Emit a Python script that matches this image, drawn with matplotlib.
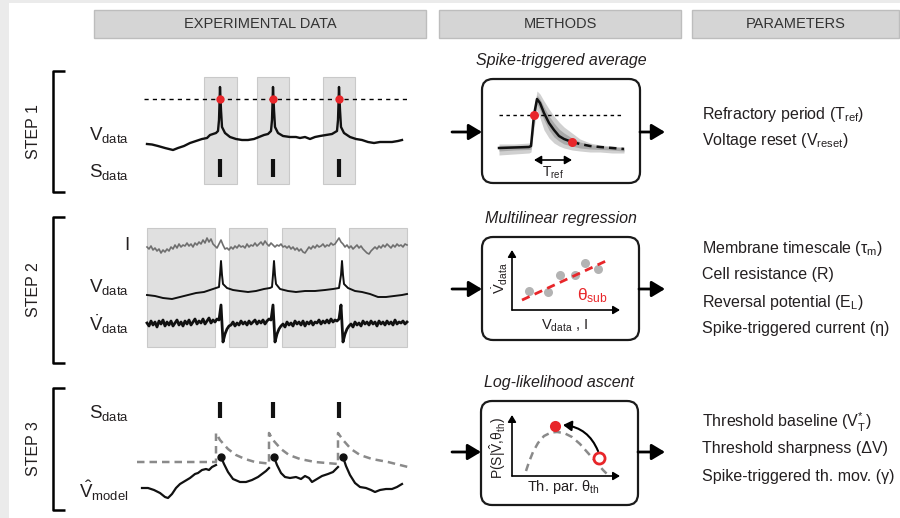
import numpy as np
import matplotlib.pyplot as plt
from matplotlib.patches import Rectangle, FancyBboxPatch

plt.rcParams['font.family'] = 'Liberation Sans'
plt.rcParams['mathtext.fontset'] = 'custom'
plt.rcParams['mathtext.rm'] = 'Liberation Sans'
plt.rcParams['mathtext.it'] = 'Liberation Sans:italic'
plt.rcParams['mathtext.bf'] = 'Liberation Sans:bold'
plt.rcParams['mathtext.sf'] = 'Liberation Sans'

###############################################################################
#### Data (time in ms, voltages in a.u.)
###############################################################################
spike_times = [160, 266, 398]
threshold = 91

# step 1: recorded voltage
v1_t = [14, 24, 36, 50, 66, 76, 88, 100, 112, 124, 134, 140, 146, 152, 156, 158, 160, 162, 164, 170,
        180, 192, 204, 216, 228, 238, 248, 256, 262, 264, 266, 268, 270, 276, 286, 300, 312, 320, 330, 340,
        350, 360, 372, 384, 394, 396, 398, 400, 402, 408, 420, 432, 444, 456, 468, 480, 492, 504, 516, 524]
v1_v = [46, 45.5, 44, 42, 40, 42, 44, 47, 49, 51, 52, 55, 56, 57, 59, 70, 103, 80, 63, 57,
        53, 51, 50, 50, 51, 53, 55, 56, 59, 70, 103, 80, 63, 57, 54, 53, 53, 52, 53, 51,
        53, 54, 55, 56, 59, 70, 103, 80, 63, 57, 53, 51, 50, 48, 47, 48, 48, 48, 49, 50]
windows1 = [(128, 194), (234, 298), (366, 430)]

# step 2: input current, voltage and its derivative
windows2 = [(14, 150), (178, 254), (284, 390), (418, 534)]
i2_v = [103, 101, 104, 100, 102, 99, 101, 97, 100, 98,
        101, 99, 103, 101, 105, 102, 106, 103, 105, 104,
        107, 104, 106, 103, 107, 105, 108, 106, 110, 107,
        112, 108, 111, 106, 104, 102, 106, 110, 105, 101,
        102, 100, 103, 101, 104, 102, 105, 103, 104, 102,
        106, 103, 105, 104, 107, 104, 106, 108, 105, 109,
        106, 104, 107, 105, 103, 105, 104, 106, 103, 104,
        102, 104, 101, 103, 100, 102, 99, 101, 98, 97,
        100, 103, 101, 104, 102, 105, 103, 104, 106, 103,
        105, 104, 107, 105, 106, 109, 112, 108, 106, 103,
        105, 102, 104, 101, 103, 105, 102, 104, 101, 99,
        97, 96, 99, 101, 103, 101, 104, 102, 105, 103,
        106, 104, 102, 105, 103, 106, 104, 105, 103, 106, 105]
dv2_v = [27, 24, 29, 25, 28, 23, 29, 26, 30, 24,
         28, 25, 29, 24, 27, 30, 25, 28, 24, 29,
         26, 30, 25, 28, 31, 26, 29, 27, 31, 26,
         29, 32, 27, 30, 28, 31, 30, 45, 8, 16,
         21, 24, 25, 28, 24, 27, 25, 29, 26, 28,
         25, 29, 26, 28, 30, 26, 29, 27, 30, 26,
         29, 31, 30, 45, 8, 16, 21, 24, 26, 23,
         28, 25, 27, 24, 29, 26, 28, 25, 29, 24,
         28, 26, 29, 25, 28, 27, 30, 26, 29, 27,
         30, 27, 31, 28, 30, 29, 31, 45, 8, 16,
         21, 24, 26, 23, 28, 25, 27, 24, 29, 26,
         28, 25, 29, 26, 28, 24, 29, 26, 28, 25,
         29, 26, 28, 25, 30, 26, 28, 27, 29, 26, 28]
v2_t = [14, 30, 46, 64, 80, 96, 112, 128, 140, 152, 158, 160, 162, 164, 166, 174, 186, 200, 216, 232,
        248, 260, 264, 266, 268, 270, 272, 280, 296, 312, 330, 350, 370, 386, 398, 402, 404, 406, 408, 416,
        430, 444, 460, 476, 492, 508, 524, 534]
v2_v = [55, 54, 52, 51, 53, 55, 57, 58, 60, 62, 63, 75, 89, 75, 66, 62, 60, 59, 58, 59,
        61, 62, 63, 75, 89, 75, 66, 61, 59, 58, 59, 59, 60, 61, 62, 75, 89, 75, 66, 62,
        59, 58, 56, 53, 53, 54, 55, 56]

# step 3: model voltage (reset after each spike) and moving threshold
vm_t = [4, 16, 28, 40, 50, 56, 64, 72, 80, 90, 100, 110, 116, 124, 132, 138, 144, 152, np.nan,
        162, 168, 176, 186, 200, 212, 224, 236, 244, 252, 258, np.nan,
        268, 274, 282, 290, 300, 312, 322, 330, 338, 344, 354, 364, 376, 386, 396, np.nan,
        406, 412, 420, 430, 440, 452, 462, 470, 480, 492, 504, 514, 524]
vm_v = [22, 22, 20, 17, 13, 12, 16, 22, 26, 29, 32, 36, 37, 40, 41, 40, 43, 45, np.nan,
        53, 46, 38, 31, 28, 28, 30, 33, 36, 39, 42, np.nan,
        53, 45, 37, 33, 32, 33, 31, 34, 32, 28, 31, 34, 36, 38, 43, np.nan,
        53, 44, 35, 27, 23, 22, 20, 18, 20, 21, 21, 23, 26]
th_t = [-6, 152, 152, 160, 176, 192, 210, 230, 256, 258, 258, 266, 282, 298, 320, 350,
        396, 396, 406, 422, 440, 464, 496, 536]
th_v = [48, 48, 77, 70, 61, 55, 51, 48, 46.5, 46, 77, 70, 61, 55, 51, 48,
        46, 77, 70, 61, 55, 51, 48, 43]

# spike-triggered average (t relative to threshold crossing)
sta_t = [-35, -20, -5, -3, 0, 3, 6, 10, 15, 20, 25, 30, 38, 46, 56, 66, 78, 90]
sta_mean = [10, 10.5, 11, 12, 43, 59, 55, 45, 35, 28, 22, 19, 16, 14, 12, 11, 10, 9]
sta_hi = [14, 14, 15, 16, 50, 67, 64, 57, 49, 42, 36, 31, 25, 19, 15, 13, 12, 11]
sta_lo = [3, 4, 5, 6, 30, 48, 40, 28, 20, 15, 12, 10, 8, 7, 6, 6, 5, 5]
sta_hi2 = [12, 12.5, 13, 14, 46, 63, 59, 51, 42, 35, 29, 25, 20, 16, 13.5, 12, 11, 10]
sta_lo2 = [7, 8, 8.5, 9, 36, 54, 48, 38, 28, 21, 17, 14, 12, 10, 9, 8.5, 8, 7]
t_ref = 38
sta_thresh = 43

# regression samples and fitted line
reg_x = [17, 36, 48, 63, 73, 86]
reg_y = [19, 18, 35, 35, 47, 41]
fit_slope, fit_icpt = 0.465, 5.3

# likelihood curve
lik_x = [14, 17, 21, 26, 32, 39, 45, 52, 60, 68, 76, 84, 91, 95]
lik_y = [5, 14, 24, 33, 40, 43.5, 44, 43, 39, 32, 23, 14, 6, 2]
lik_start = (87, 18)
lik_best = (43, 50)

headers = ['EXPERIMENTAL DATA', 'METHODS', 'PARAMETERS']
methods = ['Spike-triggered average', 'Multilinear regression', 'Log-likelihood ascent']
params = [
    ['Refractory period (T$_{\\mathrm{ref}}$)', 'Voltage reset (V$_{\\mathrm{reset}}$)'],
    ['Membrane timescale (τ$_{\\mathrm{m}}$)', 'Cell resistance (R)',
     'Reversal potential (E$_{\\mathrm{L}}$)', 'Spike-triggered current (η)'],
    ['Threshold baseline ($\\mathrm{V}_{\\mathrm{T}}^{*}$)', 'Threshold sharpness (ΔV)',
     'Spike-triggered th. mov. (γ)'],
]

###############################################################################
#### Figure
###############################################################################
W, H = 900, 518
TXT = '#231f20'
RED = '#e8262a'
fig = plt.figure(figsize=(W / 100, H / 100), dpi=100, facecolor='#ebebeb')
ax = fig.add_axes([0, 0, 1, 1])
ax.set_xlim(0, W)
ax.set_ylim(H, 0)
ax.axis('off')
ax.add_patch(Rectangle((9, 3), W, H, fc='white', ec='none'))


def panel(x0, y0, x1, y1, xlim, ylim):
    a = fig.add_axes([x0 / W, 1 - y1 / H, (x1 - x0) / W, (y1 - y0) / H])
    a.set_xlim(*xlim)
    a.set_ylim(*ylim)
    a.axis('off')
    return a


def arrow(a, p0, p1, lw=2, ms=16, style='-|>,head_length=0.5,head_width=0.3'):
    a.annotate('', xy=p1, xytext=p0,
               arrowprops=dict(arrowstyle=style, lw=lw, color='k', mutation_scale=ms,
                               shrinkA=0, shrinkB=0))


# column headers
for (x0, w), name in zip([(94, 332), (439, 242), (692, 207)], headers):
    ax.add_patch(Rectangle((x0, 10), w, 28, fc='#d5d5d5', ec='#bdbdbd', lw=1))
    ax.text(x0 + w / 2, 24.5, name, ha='center', va='center', fontsize=10.5, color='#333333')

# step brackets
for (y0, y1), name in zip([(71, 192), (217, 363), (388, 510)], ['STEP 1', 'STEP 2', 'STEP 3']):
    ax.plot([65, 53, 53, 65], [y0, y0, y1, y1], color='k', lw=1.8, solid_capstyle='butt')
    ax.text(33, (y0 + y1) / 2, name, rotation=90, ha='center', va='center', fontsize=11.5, color=TXT)

# trace labels
lab = dict(ha='right', va='center', fontsize=13.5, color=TXT)
ax.text(129, 135, 'V$_{\\mathrm{data}}$', **lab)
ax.text(129, 172, 'S$_{\\mathrm{data}}$', **lab)
ax.text(129, 246, 'I', **lab)
ax.text(129, 287, 'V$_{\\mathrm{data}}$', **lab)
ax.text(129, 324, '$\\dot{\\mathrm{V}}_{\\mathrm{data}}$', **lab)
ax.text(129, 413, 'S$_{\\mathrm{data}}$', **lab)
ax.text(129, 491, '$\\hat{\\mathrm{V}}_{\\mathrm{model}}$', **lab)

# method boxes, titles and arrows
boxes = [(482, 79, 158, 104, 132), (482, 237, 157, 103, 289), (481, 401, 157, 104, 452)]
for (x0, y0, w, h, ya), title, ty in zip(boxes, methods, [61, 218, 382]):
    ax.add_patch(FancyBboxPatch((x0, y0), w, h, boxstyle='round,pad=0,rounding_size=11',
                                fc='white', ec='#1a1a1a', lw=1.6))
    ax.text(x0 + w / 2, ty, title, ha='center', va='center', fontsize=11.5, style='italic', color=TXT)
    arrow(ax, (452, ya), (x0, ya))
    arrow(ax, (x0 + w, ya), (665, ya))

# parameters
for lines, ys in zip(params, [[115, 140], [249, 275, 302, 328], [422, 449, 477]]):
    for s, y in zip(lines, ys):
        ax.text(702, y, s, ha='left', va='center', fontsize=11.5, color=TXT)

###############################################################################
#### Step 1
###############################################################################
p1 = panel(130, 75, 412, 190, (-20, 544), (0, 115))
for t0, t1 in windows1:
    p1.add_patch(Rectangle((t0, 6), t1 - t0, 107, fc='#e0e0e0', ec='#c9c9c9', lw=0.8))
p1.plot([8, 538], [threshold, threshold], color='k', lw=1, dashes=(3, 3))
p1.plot(v1_t, v1_v, color='#111111', lw=1.7)
p1.plot(spike_times, [threshold] * 3, 'o', color=RED, ms=6, mec='none')
for t in spike_times:
    p1.plot([t, t], [13, 31], color='#111111', lw=3, solid_capstyle='butt')

###############################################################################
#### Step 2
###############################################################################
t2 = np.arange(14, 535, 4)
p2 = panel(130, 225, 412, 350, (-20, 544), (0, 125))
for t0, t1 in windows2:
    p2.add_patch(Rectangle((t0, 3), t1 - t0, 119, fc='#e0e0e0', ec='#c9c9c9', lw=0.8))
p2.plot(t2, i2_v, color='#6f6f6f', lw=1.2)
p2.plot(v2_t, v2_v, color='#111111', lw=1.4)
p2.plot(t2, dv2_v, color='#111111', lw=2.0)

###############################################################################
#### Step 3
###############################################################################
p3 = panel(130, 395, 412, 510, (-20, 544), (0, 115))
for t in spike_times:
    p3.plot([t, t], [92, 108], color='#111111', lw=3, solid_capstyle='butt')
p3.plot(th_t, th_v, color='#8a8a8a', lw=1.8, dashes=(3, 2))
p3.plot(vm_t, vm_v, color='#111111', lw=1.6)
starts = np.where(np.isnan(vm_v))[0] + 1
p3.plot(np.array(vm_t)[starts], np.array(vm_v)[starts], 'o', color='#111111', ms=5)

###############################################################################
#### Method insets
###############################################################################
# spike-triggered average
s = panel(490, 85, 635, 180, (-44, 101), (-22, 73))
s.fill_between(sta_t, sta_lo, sta_hi, color='#d0d0d0', lw=0)
s.fill_between(sta_t, sta_lo2, sta_hi2, color='#a9a9a9', lw=0)
s.plot([-35, 90], [sta_thresh, sta_thresh], color='k', lw=1, dashes=(2.5, 2.5))
k = sta_t.index(t_ref)
s.plot(sta_t[:k + 1], sta_mean[:k + 1], color='#111111', lw=1.8)
s.plot(sta_t[k:], sta_mean[k:], color='#111111', lw=1.8, dashes=(3, 2))
s.plot([0, t_ref], [sta_mean[sta_t.index(0)], sta_mean[k]], 'o', color=RED, ms=6.5, mec='none')
arrow(s, (0, -2), (t_ref, -2), lw=1.2, ms=7, style='<|-|>,head_length=0.6,head_width=0.35')
s.text(t_ref / 2, -15, 'T$_{\\mathrm{ref}}$', ha='center', va='center', fontsize=10, color=TXT)

# multilinear regression
r = panel(500, 245, 625, 335, (-12, 113), (-25, 65))
arrow(r, (0, 0), (0, 60), lw=1.2, ms=8)
arrow(r, (0, 0), (108, 0), lw=1.2, ms=8)
r.plot(reg_x, reg_y, 'o', color='#b3b3b3', ms=6.5, mec='none')
fx = np.array([10, 96])
r.plot(fx, fit_slope * fx + fit_icpt, color=RED, lw=2, dashes=(3, 2))
ax.text(500, 278, '$\\dot{\\mathrm{V}}_{\\mathrm{data}}$', rotation=90, ha='center', va='center',
        fontsize=10.5, color=TXT)
ax.text(565, 326, 'V$_{\\mathrm{data}}$ , I', ha='center', va='center', fontsize=10.5, color=TXT)
ax.text(592, 296, 'θ$_{\\mathrm{sub}}$', ha='center', va='center', fontsize=12.5, color=RED)

# log-likelihood ascent
l = panel(500, 410, 625, 500, (-12, 113), (-24, 66))
arrow(l, (0, 0), (0, 61), lw=1.2, ms=8)
arrow(l, (0, 0), (108, 0), lw=1.2, ms=8)
l.plot(lik_x, lik_y, color='#8a8a8a', lw=1.8, dashes=(3, 2))
l.annotate('', xy=(lik_best[0] + 8, lik_best[1] + 1), xytext=(lik_start[0] - 1, lik_start[1] + 7),
           arrowprops=dict(arrowstyle='-|>,head_length=0.5,head_width=0.3', lw=1.5, color='k',
                           mutation_scale=10, shrinkA=0, shrinkB=0,
                           connectionstyle='arc3,rad=0.3'))
l.plot(*lik_best, 'o', color=RED, ms=8, mec='none')
l.plot(*lik_start, 'o', mfc='white', mec=RED, mew=2, ms=8)
ax.text(498, 448, 'P(S|$\\hat{\\mathrm{V}}$,θ$_{\\mathrm{th}}$)', rotation=90, ha='center', va='center',
        fontsize=10, color=TXT)
ax.text(563, 487, 'Th. par. θ$_{\\mathrm{th}}$', ha='center', va='center', fontsize=10.5, color=TXT)

plt.savefig('out.png', dpi=100, facecolor=fig.get_facecolor())
